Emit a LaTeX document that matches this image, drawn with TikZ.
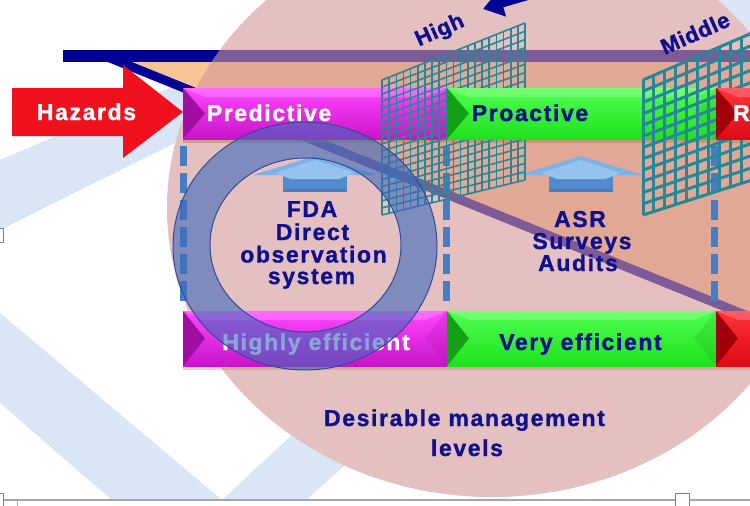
\documentclass[tikz,border=0pt]{standalone}
\usepackage{fontspec}
\setmainfont{Liberation Sans}[LetterSpace=7, BoldFeatures={FakeBold=1.2}]
\usetikzlibrary{arrows.meta,calc}
\definecolor{bandc}{RGB}{218,230,245}
\definecolor{orangec}{RGB}{248,196,150}
\definecolor{linec}{RGB}{0,0,150}
\definecolor{pinkc}{RGB}{210,150,150}
\definecolor{dashc}{RGB}{70,125,195}
\definecolor{gridc}{RGB}{40,135,150}
\definecolor{txtc}{RGB}{16,16,140}
\definecolor{magT}{RGB}{255,70,255}
\definecolor{magB}{RGB}{200,20,200}
\definecolor{magD}{RGB}{160,15,160}
\definecolor{grnT}{RGB}{80,255,80}
\definecolor{grnB}{RGB}{30,225,30}
\definecolor{grnD}{RGB}{20,160,20}
\definecolor{redT}{RGB}{255,50,60}
\definecolor{redB}{RGB}{220,10,20}
\definecolor{redD}{RGB}{160,0,10}
\definecolor{hazc}{RGB}{240,16,30}
\definecolor{ringc}{RGB}{62,105,188}
\definecolor{ringb}{RGB}{50,75,150}
\definecolor{arrH}{RGB}{125,178,230}
\definecolor{arrS}{RGB}{80,140,205}
\definecolor{arrL}{RGB}{150,195,238}
\definecolor{shdc}{RGB}{185,135,90}
\newcommand\bvl[1]{%
  \fill[#1] (path picture bounding box.north west) -- ($(path picture bounding box.west)+(22,0)$) -- (path picture bounding box.south west) -- cycle;
  \fill[#1,opacity=0.2] (path picture bounding box.north east) -- ($(path picture bounding box.east)+(-22,0)$) -- (path picture bounding box.south east) -- cycle;
  \fill[white,opacity=0.2] (path picture bounding box.north west) -- (path picture bounding box.north east) -- ($(path picture bounding box.north east)+(-22,9)$) -- ($(path picture bounding box.north west)+(22,9)$) -- cycle;}
\begin{document}
\begin{tikzpicture}[x=1pt,y=-1pt,
  lab/.style={font=\bfseries\fontsize{23}{26}\selectfont, inner sep=0pt, anchor=base, text=txtc},
  slant/.style={font=\bfseries\fontsize{22}{24}\selectfont\addfontfeatures{LetterSpace=3}, inner sep=0pt, text=txtc, anchor=center, rotate=24},
  boxbase/.style={rectangle, inner sep=0pt, outer sep=0pt, anchor=north west},
  magbox/.style={boxbase, top color=magT, bottom color=magB, path picture={\bvl{magD}}},
  grnbox/.style={boxbase, top color=grnT, bottom color=grnB, path picture={\bvl{grnD}}},
  redbox/.style={boxbase, top color=redT, bottom color=redB, path picture={\bvl{redD}}},
  toprow/.style={minimum height=51pt},
  botrow/.style={minimum height=55pt},
  dashline/.style={dashc, line width=7pt, dash pattern=on 20pt off 7pt},
  gridline/.style={gridc, line width=#1},
  shadow/.style={shdc, opacity=0.55}]
\useasboundingbox (0,0) rectangle (750,506);
\clip (0,0) rectangle (750,506);
\fill[white] (0,0) rectangle (750,506);
% background bands
\fill[bandc] (0,160) -- (205,73) -- (205,128) -- (0,230) -- cycle;
\fill[bandc] (0,313) -- (222,500) -- (112,500) -- (0,403) -- cycle;
\fill[bandc] (222,500) -- (306,500) -- (430,390) -- (340,390) -- cycle;
\fill[bandc] (690,0) rectangle (750,60);
% white base of the big disc
\fill[white] (492,208) ellipse [x radius=325, y radius=289];
% orange funnel and lines
\fill[orangec] (110,56) -- (760,56) -- (760,321) -- cycle;
\draw[linec, line width=12pt] (63,56) -- (760,56);
\draw[linec, line width=9pt] (106,56.4) -- (760,321);
% pink disc
\fill[pinkc, opacity=0.6] (492,208) ellipse [x radius=325, y radius=289];
% dashed verticals
\draw[dashline] (183,146) -- (183,308);
\draw[dashline] (446,146) -- (446,308);
\draw[dashline] (714,146) -- (714,308);
% up arrows
\foreach \cx in {315,581}{
  \fill[arrS] (\cx-32,170) rectangle (\cx+32,192);
  \fill[arrS!80!black, opacity=0.5] (\cx-32,189) rectangle (\cx+32,192);
  \fill[arrH] (\cx-62,175) -- (\cx,156) -- (\cx+62,175) -- cycle;
  \fill[arrL] (\cx-40,173) -- (\cx,160) -- (\cx+40,173) -- (\cx+24,179) -- (\cx-24,179) -- cycle;
}
% shadows
\fill[shadow] (183,139) rectangle (750,143);
\fill[shadow, opacity=0.35] (183,366) rectangle (750,370);
% boxes and nets
\node[magbox, toprow, minimum width=264pt] (pred) at (183,88) {};
\node[magbox, botrow, minimum width=264pt] (high) at (183,311) {};
\coordinate (g1a) at (382,80); \coordinate (g1b) at (525,23);
\coordinate (g1c) at (525,180); \coordinate (g1d) at (382,215);
\foreach \i in {0,...,20}{\draw[gridline=1.6pt] ($(g1a)!\i/20!(g1b)$) -- ($(g1d)!\i/20!(g1c)$);}
\foreach \i in {0,...,19}{\draw[gridline=1.6pt] ($(g1a)!\i/19!(g1d)$) -- ($(g1b)!\i/19!(g1c)$);}
\node[grnbox, toprow, minimum width=269pt] (proa) at (447,88) {};
\node[grnbox, botrow, minimum width=269pt] (very) at (447,311) {};
\coordinate (g2a) at (643,80); \coordinate (g2b) at (752,33);
\coordinate (g2c) at (752,180); \coordinate (g2d) at (643,215);
\foreach \i in {0,...,10}{\draw[gridline=3pt] ($(g2a)!\i/10!(g2b)$) -- ($(g2d)!\i/10!(g2c)$);}
\foreach \i in {0,...,12}{\draw[gridline=3pt] ($(g2a)!\i/12!(g2d)$) -- ($(g2b)!\i/12!(g2c)$);}
\node[redbox, toprow, minimum width=60pt] (reac) at (716,88) {};
\node[redbox, botrow, minimum width=60pt] (reab) at (716,311) {};
% box labels
\node[lab, text=white] (tpred) at (269,121) {Predictive};
\node[lab] (tproa) at (530,121) {Proactive};
\node[lab, text=white, anchor=base west] (treac) at (733,121) {R};
\node[lab, text=white] (thigh) at (316,350) {Highly efficient};
\node[lab] (tvery) at (580.5,350) {Very efficient};
% inner texts
\node[lab] (fda1) at (312,217) {FDA};
\node[lab] (fda2) at (312.5,240) {Direct};
\node[lab] (fda3) at (313.5,262.5) {observation};
\node[lab] (fda4) at (311.5,284) {system};
\node[lab] (asr1) at (580,227) {ASR};
\node[lab] (asr2) at (582,249) {Surveys};
\node[lab] (asr3) at (578,271) {Audits};
\node[lab] (des1) at (464.5,426) {Desirable management};
\node[lab] (des2) at (467,456) {levels};
\node[slant] (thighl) at (440,31) {High};
\node[slant] (tmid) at (695,33) {Middle};
% hazards arrow
\fill[hazc] (12,88) -- (123,88) -- (123,65) -- (183,112) -- (123,158) -- (123,136) -- (12,136) -- cycle;
\node[lab, text=white] (thaz) at (86.5,120) {Hazards};
% top arrow
\draw[linec, line width=8pt, -{Triangle[length=20pt, width=26pt]}] (545,-9) -- (483,9);
% blue ring
\fill[ringc, opacity=0.6, even odd rule] (305,246) ellipse [x radius=132, y radius=124] (305.5,245) ellipse [x radius=95.5, y radius=87];
\draw[ringb, line width=1pt] (305,246) ellipse [x radius=132, y radius=124];
\draw[ringb, line width=1pt] (305.5,245) ellipse [x radius=95.5, y radius=87];
% page artefacts
\draw[gray!70, line width=1.5pt] (0,500) -- (750,500);
\draw[gray!70, line width=1pt] (17,500) -- (17,506);
\draw[gray, fill=white, line width=1pt] (-6,228) rectangle (3,242);
\draw[gray, fill=white, line width=1pt] (-6,493) rectangle (3,507);
\draw[gray, fill=white, line width=1pt] (675,493) rectangle (689,507);
\end{tikzpicture}
\end{document}
